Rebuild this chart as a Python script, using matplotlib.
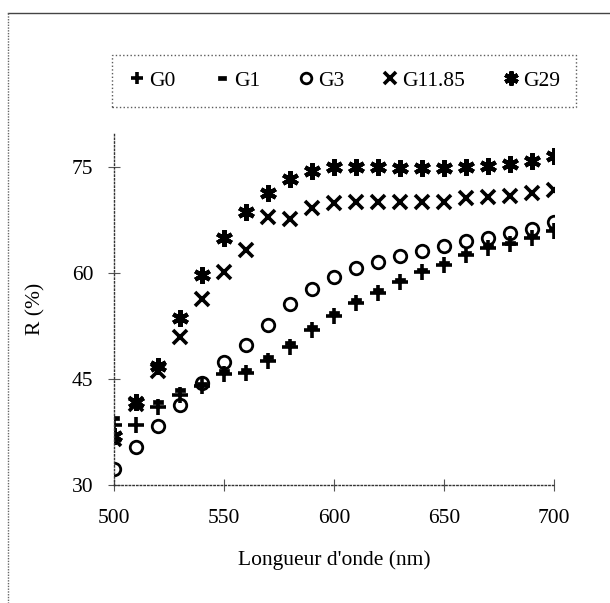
import matplotlib
matplotlib.use("Agg")
import matplotlib.pyplot as plt
from matplotlib.lines import Line2D

plt.rcParams['font.family'] = ['Liberation Serif', 'DejaVu Serif']

wavelength = [500, 510, 520, 530, 540, 550, 560, 570, 580, 590, 600,
              610, 620, 630, 640, 650, 660, 670, 680, 690, 700]
G0 = [38.5, 38.5, 41.0, 42.8, 44.0, 45.7, 45.8, 47.5, 49.6, 52.0, 53.9,
      55.8, 57.2, 58.8, 60.1, 61.2, 62.6, 63.6, 64.1, 65.0, 66.0]
G1 = [39.5, 41.5, 41.8, 43.5, 44.3, 46.2, 46.3, 48.2, 50.1, 52.4, 54.3,
      56.2, 57.6, 59.1, 60.4, 61.5, 62.8, 63.8, 64.3, 65.2, 66.2]
G3 = [32.3, 35.4, 38.3, 41.4, 44.5, 47.4, 49.9, 52.7, 55.6, 57.8, 59.5,
      60.8, 61.6, 62.5, 63.1, 63.8, 64.6, 65.0, 65.7, 66.2, 67.3]
G11_85 = [36.5, 41.5, 46.1, 51.0, 56.3, 60.2, 63.3, 67.9, 67.7, 69.2, 70.0,
          70.1, 70.1, 70.1, 70.1, 70.1, 70.7, 70.8, 71.0, 71.3, 71.8]
G29 = [36.9, 41.7, 46.8, 53.7, 59.8, 65.0, 68.6, 71.4, 73.4, 74.5, 75.1,
       75.1, 75.0, 74.9, 74.9, 74.9, 75.0, 75.2, 75.5, 75.9, 76.6]

labels = ['G0', 'G1', 'G3', 'G11.85', 'G29']
xticks = [500, 550, 600, 650, 700]
yticks = [30, 45, 60, 75]

W, H = 610, 603
fig = plt.figure(figsize=(W / 100, H / 100), dpi=100)
ax_l, ax_r, ax_b, ax_t = 114, 554, 485, 132
ax = fig.add_axes([ax_l / W, 1 - ax_b / H, (ax_r - ax_l) / W, (ax_b - ax_t) / H])

dash = [(-1, -0.45), (1, -0.45), (1, 0.45), (-1, 0.45), (-1, -0.45)]
styles = [
    dict(marker='+', ms=11, mew=2.6, mfc='black'),
    dict(marker=dash, ms=7, mew=0.5, mfc='black'),
    dict(marker='o', ms=9, mew=2.0, mfc='none'),
    dict(marker='x', ms=10, mew=2.6, mfc='black'),
    dict(marker=(6, 2, 0), ms=12, mew=3.0, mfc='black'),
]
series = [G0, G1, G3, G11_85, G29]
handles = []
for s, lab, st in zip(series, labels, styles):
    h, = ax.plot(wavelength, s, linestyle='none', color='black', mec='black',
                 label=lab, **st)
    handles.append(h)

ax.set_xlim(500, 700)
ax.set_ylim(30, 80)
ax.set_xticks(xticks)
ax.set_yticks(yticks)
for sp in ['top', 'right']:
    ax.spines[sp].set_visible(False)
for sp in ['left', 'bottom']:
    ax.spines[sp].set_linestyle(':')
    ax.spines[sp].set_linewidth(1.0)
    ax.spines[sp].set_color('#333333')
ax.tick_params(direction='inout', length=8, width=0.8, color='#555555',
               labelsize=15.5)
ax.tick_params(axis='x', pad=13)
ax.tick_params(axis='y', pad=11)
ax.set_xlabel("Longueur d'onde (nm)", fontsize=15.5, labelpad=16)
ax.set_ylabel("R (%)", fontsize=15.5, labelpad=19)

leg = fig.legend(handles=handles, labels=labels, ncol=5,
                 loc='center', bbox_to_anchor=((123 + 565) / 2 / W, 1 - 81 / H),
                 fontsize=15.5, frameon=True, fancybox=False, handlelength=0.9,
                 handletextpad=0.1, columnspacing=1.7, borderpad=0.75,
                 markerscale=0.85)
fr = leg.get_frame()
fr.set_edgecolor('#333333')
fr.set_linestyle(':')
fr.set_linewidth(1.0)

# page border (scan frame)
fig.add_artist(Line2D([8 / W, 1], [1 - 13 / H, 1 - 13 / H], color='#444444', lw=1.0,
                      transform=fig.transFigure))
fig.add_artist(Line2D([8 / W, 8 / W], [1 - 13 / H, 0], color='#666666', lw=1.0,
                      linestyle=(0, (1, 1)), transform=fig.transFigure))

fig.savefig('out.png', dpi=100, facecolor='white')
